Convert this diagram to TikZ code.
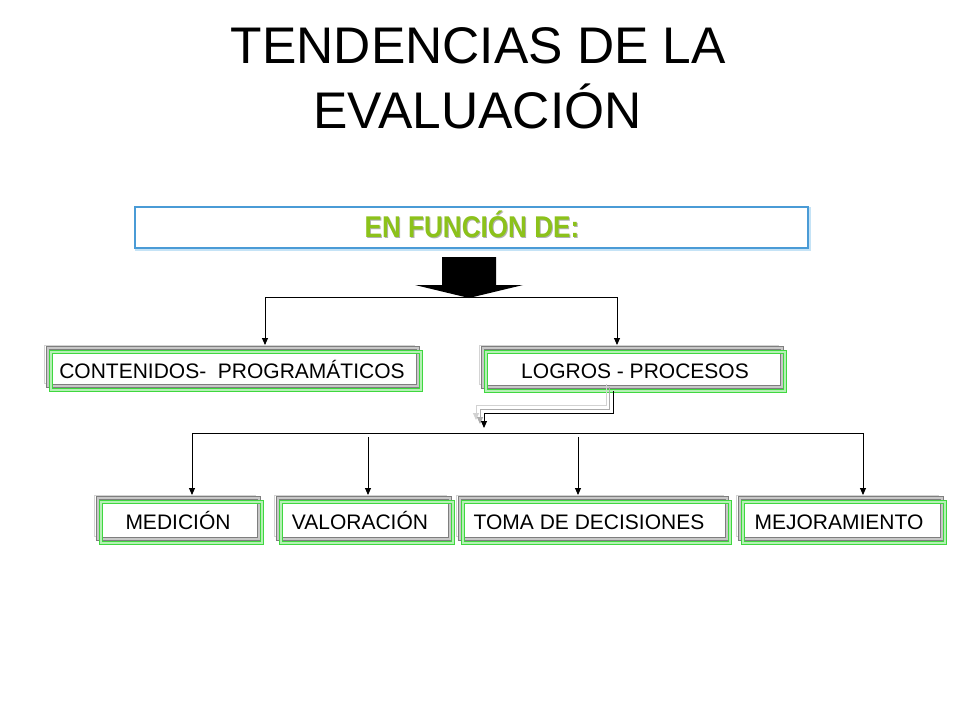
\documentclass[tikz,border=0pt]{standalone}
\usepackage{fontspec}
\setmainfont{Liberation Sans}
\usetikzlibrary{arrows.meta,calc}
\definecolor{fngreen}{HTML}{8CC21A}
\definecolor{fnblue}{HTML}{4A9BD6}
\definecolor{fnglow}{HTML}{C5E3F6}
\definecolor{boxgray}{HTML}{7E7E7E}
\definecolor{boxgrayin}{HTML}{C8C8C8}
\definecolor{boxgreen}{HTML}{3FD83F}
\definecolor{boxgreenin}{HTML}{B5F0B5}
\definecolor{lightgraytwo}{HTML}{D4D4D4}
\newcommand\layeredbox[8]{%
  \node[lightbox, minimum width=#4pt, minimum height=#5pt] (#1-l) at (#2-4,#3-3) {};
  \node[graybox, minimum width=#4pt, minimum height=#5pt] (#1) at (#2,#3) {};
  \node[greenbox, minimum width=#4pt, minimum height=#5pt] (#1-g) at (#2+3,#3+4) {};
  \node[boxtext] (#1-t) at (#6,#7) {#8};
}
\begin{document}
\begin{tikzpicture}[x=1pt,y=-1pt,
  lightbox/.style={draw=lightgraytwo, line width=0.9pt, fill=white, inner sep=0pt, outer sep=0pt},
  graybox/.style={draw=boxgray, double=boxgrayin, double distance=1.1pt, line width=1pt, fill=white, inner sep=0pt, outer sep=0pt},
  greenbox/.style={draw=boxgreen, double=boxgreenin, double distance=1.1pt, line width=1.1pt, inner sep=0pt, outer sep=0pt},
  boxtext/.style={font=\fontsize{21}{24}\selectfont, anchor=base, inner sep=0pt},
  titletext/.style={font=\fontsize{51.5}{60}\selectfont, anchor=base, inner sep=0pt},
  fntext/.style={font=\bfseries\fontsize{30}{34}\selectfont, anchor=base, inner sep=0pt, xscale=0.87},
  conn/.style={line width=0.9pt, draw=black},
  arr/.style={conn, -{Triangle[length=7pt,width=6pt]}},
]
\useasboundingbox (0,0) rectangle (960,720);
\fill[white] (0,0) rectangle (960,720);

% title
\node[titletext] (t1) at (478.5,63) {TENDENCIAS DE LA};
\node[titletext] (t2) at (477.5,128) {EVALUACIÓN};

% EN FUNCION DE box
\node[draw=fnglow, line width=3pt, minimum width=673pt, minimum height=41pt, inner sep=0pt] (fnglow) at (472.5,229) {};
\node[draw=fnblue, line width=1.1pt, fill=white, minimum width=673pt, minimum height=41pt, inner sep=0pt] (fn) at (471.5,227.5) {};
\node[fntext, text=black!30] (fnshadow) at (473,238) {EN FUNCIÓN DE:};
\node[fntext, text=fngreen] (fnt) at (472,237) {EN FUNCIÓN DE:};

% block arrow
\fill[black] (442,257) -- (496,257) -- (496,285) -- (523,285) -- (469,298) -- (415,285) -- (442,285) -- cycle;

% boxes
\layeredbox{cont}{233}{367}{370}{38}{232}{378}{CONTENIDOS-\ \ PROGRAMÁTICOS}
\layeredbox{logr}{632.5}{367.5}{299}{39}{635}{378}{LOGROS - PROCESOS}
\layeredbox{medi}{178.5}{518.5}{161}{41}{178}{529}{MEDICIÓN}
\layeredbox{valo}{364}{518.5}{172}{41}{360}{529}{VALORACIÓN}
\layeredbox{toma}{593.5}{518.5}{267}{41}{589}{529}{TOMA DE DECISIONES}
\layeredbox{mejo}{841}{518.5}{202}{41}{839}{529}{MEJORAMIENTO}

% top connectors
\coordinate (ja) at (265,297);
\coordinate (jb) at (617,297);
\draw[conn] (ja) -- (jb);
\draw[arr] (ja) -- (ja |- cont-l.north);
\draw[arr] (jb) -- (jb |- logr-l.north);

% connector from LOGROS (layered)
\coordinate (la0) at (606,384); \coordinate (la1) at (606,405); \coordinate (la2) at (476,405); \coordinate (la3) at (476,420);
\coordinate (lb0) at (609,387); \coordinate (lb1) at (609,409); \coordinate (lb2) at (480,409); \coordinate (lb3) at (480,424);
\coordinate (lc0) at (613,391); \coordinate (lc1) at (613,413); \coordinate (lc2) at (484,413); \coordinate (lc3) at (484,428);
\draw[arr, draw=gray!35] (la0) -- (la1) -- (la2) -- (la3);
\draw[arr, draw=gray!65] (lb0) -- (lb1) -- (lb2) -- (lb3);
\draw[arr] (lc0) -- (lc1) -- (lc2) -- (lc3);

% bottom connectors
\coordinate (h1) at (192,433);
\coordinate (h4) at (863,433);
\coordinate (v2) at (368,437);
\coordinate (v3) at (578,437);
\draw[conn] (h1) -- (h4);
\draw[arr] (h1) -- (h1 |- medi-l.north);
\draw[arr] (v2) -- (v2 |- valo-l.north);
\draw[arr] (v3) -- (v3 |- toma-l.north);
\draw[arr] (h4) -- (h4 |- mejo-l.north);
\end{tikzpicture}
\end{document}
